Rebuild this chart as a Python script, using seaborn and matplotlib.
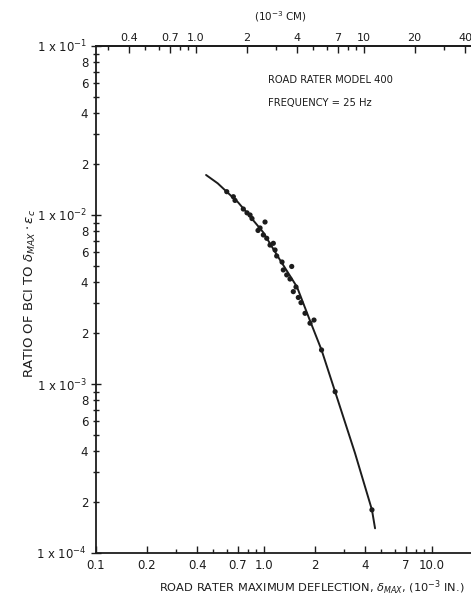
import numpy as np
import pandas as pd
import seaborn as sns
import matplotlib.pyplot as plt
from matplotlib.ticker import FixedLocator, FixedFormatter, NullFormatter

# measured points: deflection (1e-3 in.) vs ratio
defl_pts = [0.600, 0.657, 0.672, 0.753, 0.792, 0.826, 0.848, 1.014, 0.947, 0.921,
            0.991, 1.038, 1.136, 1.086, 1.163, 1.190, 1.280, 1.462, 1.303, 1.365,
            1.428, 1.550, 1.494, 1.600, 1.660, 1.754, 1.984, 1.878, 2.200, 2.650,
            4.390]
ratio_pts = [0.01374, 0.01283, 0.0122, 0.01085, 0.0103, 0.0100, 0.00953, 0.00909,
             0.00838, 0.0081, 0.00762, 0.00728, 0.0068, 0.00664, 0.00621, 0.00572,
             0.00527, 0.00496, 0.00473, 0.00442, 0.00418, 0.00375, 0.00352, 0.00325,
             0.00303, 0.00262, 0.00239, 0.00229, 0.00159, 0.00090, 0.00018]

# fitted curve
curve_x = [0.452, 0.530, 0.602, 0.700, 0.792, 0.986, 1.245, 1.572, 1.878, 2.200,
           2.650, 3.480, 4.390, 4.580]
curve_y = [0.01725, 0.01540, 0.01368, 0.01190, 0.0103, 0.00793, 0.00542, 0.00375,
           0.00237, 0.00159, 0.00090, 0.00039, 0.00018, 0.00014]

x_major = [0.1, 0.2, 0.4, 0.7, 1.0, 2, 4, 7, 10]
x_major_lab = ['0.1', '0.2', '0.4', '0.7', '1.0', '2', '4', '7', '10.0']
x_minor = [0.3, 0.5, 0.6, 0.8, 0.9, 3, 5, 6, 8, 9]

cm_major = [0.4, 0.7, 1.0, 2, 4, 7, 10, 20, 40]
cm_major_lab = ['0.4', '0.7', '1.0', '2', '4', '7', '10', '20', '40']
cm_minor = [0.3, 0.5, 0.6, 0.8, 0.9, 3, 5, 6, 8, 9, 30]

y_major = [1e-4, 1e-3, 1e-2, 1e-1]
y_major_lab = [r'1 x 10$^{-4}$', r'1 x 10$^{-3}$', r'1 x 10$^{-2}$', r'1 x 10$^{-1}$']
y_minor_mant = [2, 3, 4, 5, 6, 7, 8, 9]
y_minor_lab = ['2', '', '4', '', '6', '', '8', '']

sns.set_style('ticks')
plt.rcParams['font.family'] = ['DejaVu Sans']
ink = '#1c1c1c'

fig = plt.figure(figsize=(4.71, 6.05), dpi=100)
ax = fig.add_axes([96 / 471, 1 - 553 / 605, (480 - 96) / 471, (553 - 46) / 605])

pts = pd.DataFrame({'defl': defl_pts, 'ratio': ratio_pts})
sns.scatterplot(data=pts, x='defl', y='ratio', ax=ax, color=ink, s=14,
                edgecolor='none', zorder=3)
sns.lineplot(x=curve_x, y=curve_y, ax=ax, color=ink, lw=1.4,
             sort=False, estimator=None)

ax.set_xscale('log')
ax.set_yscale('log')
ax.set_xlim(0.1, 19.3)
ax.set_ylim(1e-4, 1e-1)
ax.set_xlabel('')
ax.set_ylabel('')

ax.xaxis.set_major_locator(FixedLocator(x_major))
ax.xaxis.set_major_formatter(FixedFormatter(x_major_lab))
ax.xaxis.set_minor_locator(FixedLocator(x_minor))
ax.xaxis.set_minor_formatter(NullFormatter())

y_minor = [m * d for d in [1e-4, 1e-3, 1e-2] for m in y_minor_mant]
ax.yaxis.set_major_locator(FixedLocator(y_major))
ax.yaxis.set_major_formatter(FixedFormatter(y_major_lab))
ax.yaxis.set_minor_locator(FixedLocator(y_minor))
ax.yaxis.set_minor_formatter(FixedFormatter(y_minor_lab * 3))

ax.tick_params(axis='x', which='both', direction='in', top=False, colors=ink,
               labelsize=8.5, pad=4)
ax.tick_params(axis='x', which='major', length=5, width=1)
ax.tick_params(axis='x', which='minor', length=3, width=1)
ax.tick_params(axis='y', which='both', direction='inout', colors=ink,
               labelsize=8.5, pad=3)
ax.tick_params(axis='y', which='major', length=7, width=1)
ax.tick_params(axis='y', which='minor', length=5, width=1)

for s in ['left', 'bottom', 'top']:
    ax.spines[s].set_color(ink)
    ax.spines[s].set_linewidth(1.3)
ax.spines['right'].set_visible(False)

top = ax.secondary_xaxis('top', functions=(lambda v: v * 2.54, lambda v: v / 2.54))
top.xaxis.set_major_locator(FixedLocator(cm_major))
top.xaxis.set_major_formatter(FixedFormatter(cm_major_lab))
top.xaxis.set_minor_locator(FixedLocator(cm_minor))
top.xaxis.set_minor_formatter(NullFormatter())
top.tick_params(which='both', direction='in', colors=ink, labelsize=8, pad=2)
top.tick_params(which='major', length=5, width=1)
top.tick_params(which='minor', length=3, width=1)
top.spines['top'].set_color(ink)
top.spines['top'].set_linewidth(1.3)

fig.text(280 / 471, 1 - 17 / 605, r'(10$^{-3}$ CM)', ha='center', va='center',
         fontsize=7.5, color=ink)
fig.text(268 / 471, 1 - 80 / 605, 'ROAD RATER MODEL 400', ha='left', va='center',
         fontsize=7.2, color=ink)
fig.text(268 / 471, 1 - 103 / 605, 'FREQUENCY = 25 Hz', ha='left', va='center',
         fontsize=7.2, color=ink)
fig.text(312 / 471, 1 - 588 / 605,
         r'ROAD RATER MAXIMUM DEFLECTION, $\delta_{MAX}$, (10$^{-3}$ IN.)',
         ha='center', va='center', fontsize=8.2, color=ink)
fig.text(30 / 471, 1 - 293 / 605, r'RATIO OF BCI TO $\delta_{MAX}\cdot\epsilon_c$',
         ha='center', va='center', rotation=90, fontsize=9.5, color=ink)

fig.savefig('out.png', dpi=100, facecolor='white')
